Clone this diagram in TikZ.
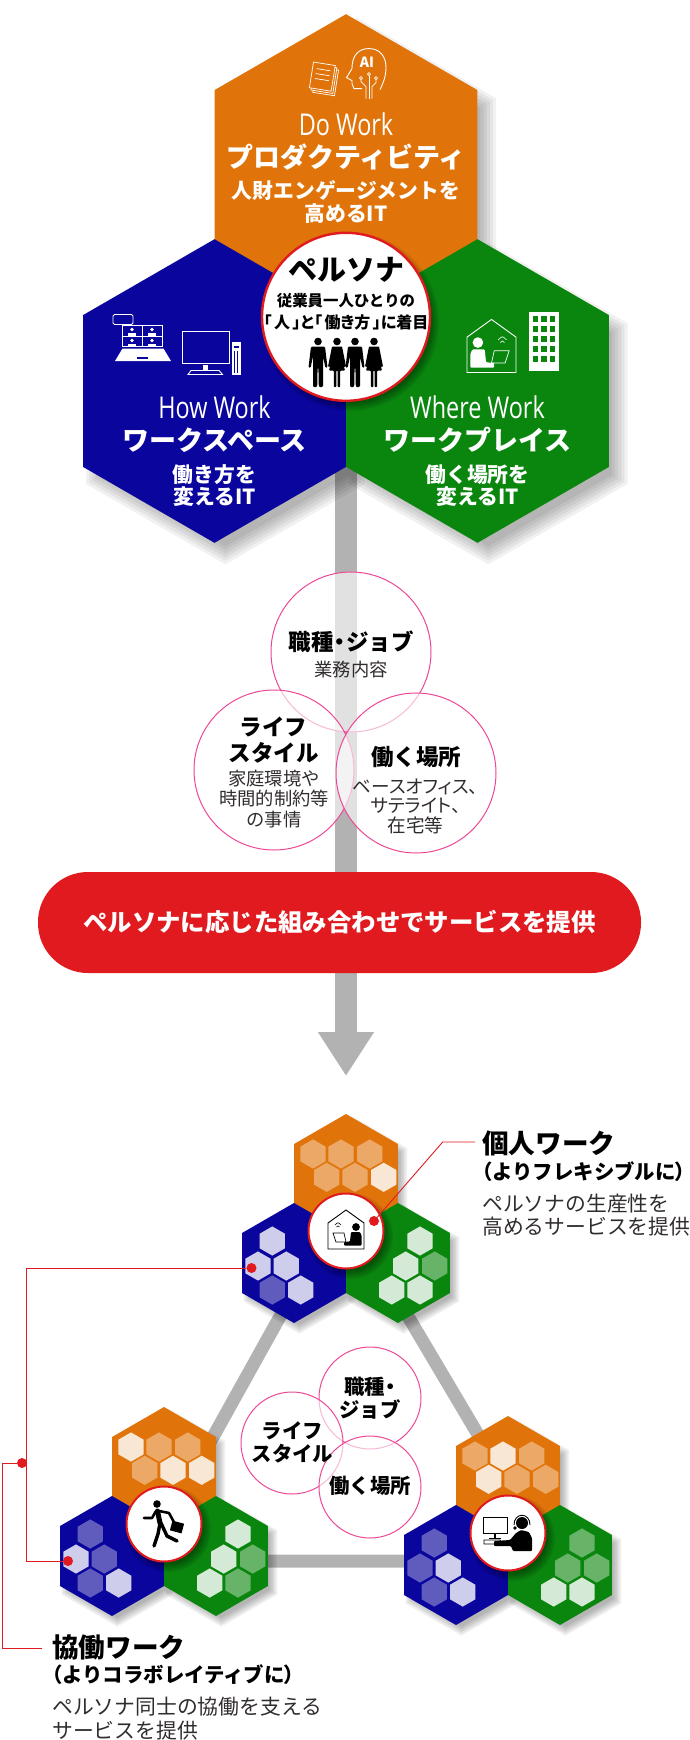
\documentclass[tikz,border=0pt]{standalone}
\usepackage{fontspec}
\usepackage{xcolor}
\usetikzlibrary{arrows.meta, shapes.geometric}
\setmainfont{Noto Sans CJK JP}
\newfontfamily\palt[RawFeature=+palt]{Noto Sans CJK JP}
\newfontfamily\workfont[FakeStretch=0.78]{Open Sans}
\definecolor{myorange}{RGB}{224, 116, 10}
\definecolor{myblue}{RGB}{10, 5, 156}
\definecolor{mygreen}{RGB}{10, 134, 14}
\definecolor{myred}{RGB}{224, 26, 30}
\definecolor{mypink}{RGB}{236, 72, 150}
\definecolor{mygray}{RGB}{178, 178, 178}
\definecolor{mytext}{RGB}{50, 45, 45}
\newcommand{\fsz}[2]{\fontsize{#1}{#2}\selectfont}
\newcommand{\hexline}[1]{(90:#1)--(30:#1)--(-30:#1)--(-90:#1)--(-150:#1)--(150:#1)--cycle}
\newcommand{\hexshadow}[4]{\foreach \g in {0,...,5}{
    \pgfmathsetmacro\rr{#3-#4*0.5+\g*#4/5}
    \fill[black,opacity=.055,shift={(#1+#4*.6,#2+#4*.7)}] \hexline{\rr};}}
\newcommand{\roundshadow}[3]{\foreach \g in {0,...,5}{
    \pgfmathsetmacro\rr{#3-3+\g*1.6}
    \fill[black,opacity=.07] (#1+4,#2+5) circle (\rr);}}
\newcommand{\minicell}[3]{\fill[white,fill opacity=#3,shift={(#1,#2)}] \hexline{14.6};}
\newcommand{\trio}[7]{
  \hexshadow{#1}{#2-57}{60}{9}
  \hexshadow{#1-52}{#2+32}{60}{9}
  \hexshadow{#1+52}{#2+32}{60}{9}
  \node[hexsmall,fill=myorange](#3top) at (#1,#2-57){};
  \node[hexsmall,fill=myblue](#3left) at (#1-52,#2+32){};
  \node[hexsmall,fill=mygreen](#3right) at (#1+52,#2+32){};
  \foreach \o [count=\k from 0] in {#4}{
    \pgfmathsetmacro\dx{{-33,-5,23.7,-19.3,9,37.7}[\k]}
    \pgfmathsetmacro\dy{{-20,-20,-20,3.3,3.3,3.3}[\k]}
    \minicell{#1+\dx}{#2-57+\dy}{\o}}
  \foreach \o [count=\k from 0] in {#5}{
    \pgfmathsetmacro\dx{{-21.7,-36,-7.7,-21.7,6.7}[\k]}
    \pgfmathsetmacro\dy{{-22,3,3,27,27}[\k]}
    \minicell{#1-52+\dx}{#2+32+\dy}{\o}}
  \foreach \o [count=\k from 0] in {#6}{
    \pgfmathsetmacro\dx{{22,7.7,36.7,-6.3,22}[\k]}
    \pgfmathsetmacro\dy{{-22,3,3,27,27}[\k]}
    \minicell{#1+52+\dx}{#2+32+\dy}{\o}}
  \roundshadow{#1}{#2}{38}
  \node[hub,line width=2pt,minimum size=75pt](#3hub) at (#1,#2){};
  \pic at (#1,#2) {#7};
}
\begin{document}
\begin{tikzpicture}[x=1pt,y=-1pt,
    hexa/.style={regular polygon,regular polygon sides=6,shape border rotate=30,
                 inner sep=0,outer sep=0,minimum size=303.6pt},
    hexsmall/.style={hexa,minimum size=120pt},
    hub/.style={circle,draw=myred,fill=white,line width=2.4pt,inner sep=0},
    venn/.style={circle,draw=mypink,line width=1pt,fill=white,fill opacity=.62,inner sep=0},
    hextext/.style={text=white,align=center,inner sep=0,font=\bfseries\fsz{20.8}{22.5}},
    hexhead/.style={text=white,align=center,inner sep=0,font=\bfseries\fsz{27}{30}},
    worktext/.style={text=white,inner sep=0,font=\workfont\fsz{30}{32}},
    vennhead/.style={align=center,inner sep=0,font=\bfseries\fsz{22.5}{26}},
    vennsub/.style={align=center,inner sep=0,text=mytext,font=\fsz{18.3}{20.5}},
    minitext/.style={vennhead,font=\bfseries\fsz{20.4}{22.5}},
    tag/.style={anchor=west,inner sep=0,font=\bfseries\fsz{26.6}{30}},
    tagsub/.style={anchor=west,inner sep=0,font=\bfseries\fsz{20.4}{24}},
    tagtext/.style={anchor=west,align=left,inner sep=0,text=mytext,font=\fsz{20.8}{23.5}},
    redline/.style={draw=myred,line width=.9pt},
    reddot/.style={circle,fill=myred,inner sep=0,minimum size=10pt},
    man/.pic={
      \fill (0,-21) circle (3.8);
      \fill[rounded corners=1.2pt] (-7,-16)--(7,-16)--(9.5,5)--(7.5,5.5)--(5,-6)--(5,24.5)--(0.8,24.5)
        --(0.4,5)--(-0.4,5)--(-0.8,24.5)--(-5,24.5)--(-5,-6)--(-7.5,5.5)--(-9.5,5)--cycle;},
    woman/.pic={
      \fill (0,-21) circle (3.8);
      \fill[rounded corners=.8pt] (-5,-16)--(5,-16)--(9,4)--(7,4.5)--(4,-7)--(8,8)--(3.2,8)--(3.2,24.5)--(.6,24.5)
        --(.6,8)--(-.6,8)--(-.6,24.5)--(-3.2,24.5)--(-3.2,8)--(-8,8)--(-4,-7)--(-7,4.5)--(-9,4)--cycle;},
    homeicon/.pic={
      \draw[line width=.9pt] (-18,-8)--(0,-21)--(18,-8)--(18,18)--(-18,18)--cycle;
      \fill (10,-4) circle (3.9);
      \fill[rounded corners=1pt] (5,1)--(14,1)--(15.5,4)--(15.5,14.5)--(-2,14.5)--(-2,11)--(4,10.5)--cycle;
      \draw[line width=.7pt] (-13,2)--(-2,2)--(0,11)--(-10,11)--cycle;
      \draw[line width=.6pt] (-11,-6) .. controls (-8,-9) .. (-5,-6);
      \draw[line width=.6pt] (-9.5,-4) .. controls (-8,-5.5) .. (-6.5,-4);},
    runner/.pic={
      \fill (-7,-20) circle (3.8);
      \draw[line width=5pt,line join=round,line cap=round] (-6.5,-13)--(-4,-1);
      \draw[line width=2.6pt,line join=round,line cap=round] (-8,-13)--(-12,-6)--(-20,-6);
      \draw[line width=2.6pt,line join=round,line cap=round] (-5,-13)--(5,-11)--(11,0);
      \draw[line width=3.4pt,line join=round,line cap=round] (-4,-1)--(-6,10)--(-10,22);
      \draw[line width=3.4pt,line join=round,line cap=round] (-3,-1)--(3,12)--(13,17);
      \fill[rotate around={-15:(13,3)}] (7,-2) rectangle (19,8);},
    headset/.pic={
      \draw[line width=.9pt] (-25,-16) rectangle (-1,0);
      \fill (-14,0) rectangle (-12,5);
      \fill (-19,4.5) rectangle (-7,6);
      \draw[line width=.8pt] (-24,7)--(-8,7)--(-6,11)--(-24,11)--cycle;
      \fill (14,-10) circle (6);
      \draw[line width=.9pt] (6,-8) .. controls (6,-21) and (22,-21) .. (22,-8);
      \fill (7,-5) circle (1.8);
      \fill[rounded corners=1pt] (13,-3)--(21,-1)--(24,5)--(24,18)--(5,18)--(3,13)--(-14,13)--(-14,8)--(2,7)--(8,0)--cycle;},
    build/.pic={
      \fill (-15,-29)--(15,-29)--(15,30)--(-15,30)--cycle;
      \foreach \r in {-22,-12,-2,8,18}
        \foreach \c in {-8.5,0,8.5}
          \fill[mygreen] (\c-2.8,\r-2.8) rectangle (\c+2.8,\r+2.8);},
  ]
\useasboundingbox (0,0) rectangle (690,1740);

\coordinate (arrowStart) at (346,440);
\coordinate (arrowEnd) at (346,1076);
\draw[mygray,line width=22pt,-{Triangle[length=44pt,width=53pt]}] (arrowStart)--(arrowEnd);

\hexshadow{346}{166}{151.8}{18}
\hexshadow{214.5}{391}{151.8}{18}
\hexshadow{477.5}{391}{151.8}{18}
\node[hexa,fill=myorange](doHex) at (346,166){};
\node[hexa,fill=myblue](howHex) at (214.5,391){};
\node[hexa,fill=mygreen](whereHex) at (477.5,391){};

\node[worktext](doWork) at (346,124){Do Work};
\node[hexhead](doHead) at (346,157){プロダクティビティ};
\node[hextext](doText) at (346,202){人財エンゲージメントを\\高めるIT};
\node[worktext](howWork) at (214.5,407){How Work};
\node[hexhead](howHead) at (214.5,440){ワークスペース};
\node[hextext](howText) at (214.5,485.5){働き方を\\変えるIT};
\node[worktext](whereWork) at (477.5,407){Where Work};
\node[hexhead](whereHead) at (477.5,440){ワークプレイス};
\node[hextext](whereText) at (477.5,485.5){働く場所を\\変えるIT};

\begin{scope}[white,shift={(0,-1.4)}]
  \foreach \s in {4,2,0}
    \draw[line width=.7pt,fill=myorange,rotate around={-9:(322,80)}] (311+\s,65+\s) rectangle (333+\s,91+\s);
  \foreach \l in {71,76,81}
    \draw[line width=.7pt,rotate around={-9:(322,80)}] (315,\l)--(329,\l);
  \draw[line width=.9pt] (362,90)--(354,90)--(352,85)--(352,82)--(346.5,79)--(352,70)
    .. controls (352,55) and (360,50) .. (369,50) .. controls (380,50) and (386,58) .. (386,69)
    .. controls (386,78) and (383,85) .. (380,91);
  \draw[line width=.7pt] (366,100)--(366,88)--(361,83)--(361,81);
  \draw[line width=.7pt] (369,100)--(369,77);
  \draw[line width=.7pt] (372,100)--(372,88)--(376,84)--(376,81);
  \draw[line width=.7pt] (361,79.5) circle (1.6) (369,75.5) circle (1.6) (376,79.5) circle (1.6);
  \node[text=white,inner sep=0,font=\bfseries\fsz{14}{14}](aiLabel) at (367,64){AI};
\end{scope}
\begin{scope}[white,shift={(0,-6.5)}]
  \draw[line width=.9pt,rounded corners=1.5pt] (113,321) rectangle (133,331);
  \draw[line width=.9pt] (122.5,332) rectangle (162,353);
  \draw[line width=.7pt] (142,332)--(142,353) (122.5,342.5)--(162,342.5);
  \foreach \a/\b in {132/336,152/336,132/347,152/347}{
    \fill (\a,\b) circle (1.8);
    \fill (\a-4,\b+6) rectangle (\a+4,\b+3);}
  \fill (122.5,355)--(163.5,355)--(171,367.5)--(115,367.5)--cycle;
  \fill[myblue] (137,363) rectangle (148,365);

  \draw[line width=1pt] (182.5,338) rectangle (229,370);
  \fill (203,371) rectangle (208,376);
  \draw[line width=.9pt] (188,381)--(191,377)--(219,377)--(222.5,381)--cycle;
  \fill (232,348) rectangle (241,381);
  \fill[myblue] (234,352) rectangle (239,354);
  \fill[myblue] (234,357) rectangle (235,379);
  \fill[myblue] (237,357) rectangle (238,379);

  \pic[xscale=-1.36,yscale=1.36] at (491.5,354.5) {homeicon};
  \pic at (544,347.5) {build};
\end{scope}

\roundshadow{346}{316.8}{84}
\node[hub,minimum size=168pt](persona) at (346,316.8){};
\node[inner sep=0,font=\bfseries\fsz{29}{30}](personaHead) at (346,269.5){ペルソナ};
\node[align=center,inner sep=0,font=\bfseries\fsz{15.4}{21.8}](personaText) at (346,311.5){従業員一人ひとりの\\\palt\fsz{16}{21.8}「\kern2.5pt 人\kern2.5pt 」と「\kern2.5pt 働き方\kern2.5pt 」に着目};
\pic at (318,362.5) {man};
\pic at (337,362.5) {woman};
\pic at (355,362.5) {man};
\pic at (374,362.5) {woman};

\node[venn,minimum size=160pt](vennJob) at (351,652){};
\node[venn,minimum size=160pt](vennLife) at (274,770){};
\node[venn,minimum size=160pt](vennPlace) at (416,773){};
\node[vennhead](jobHead) at (351,642){職種\kern-5pt ・\kern-5pt ジョブ};
\node[vennsub](jobText) at (351,670){業務内容};
\node[vennhead](lifeHead) at (273.5,740){ライフ\\スタイル};
\node[vennsub](lifeText) at (274,799){家庭環境や\\時間的制約等\\の事情};
\node[vennhead](placeHead) at (416,757){働く場所};
\node[vennsub,font=\palt\fsz{18.6}{19.5}](placeText) at (415.5,806){ベースオフィス、\\サテライト、\\在宅等};

\node[rounded corners=50pt,fill=myred,minimum width=603pt,minimum height=101pt,inner sep=0](offer) at (339.5,922.5){};
\node[text=white,inner sep=0,font=\bfseries\fsz{24.4}{26}](offerText) at (339.5,922){ペルソナに応じた組み合わせでサービスを提供};

\coordinate (triTop) at (342,1205);
\coordinate (triLeft) at (144,1561);
\coordinate (triRight) at (553,1561);
\draw[mygray,line width=13pt,line join=miter] (triTop)--(triLeft)--(triRight)--cycle;

\trio{346}{1231}{solo}{.38,.38,.38,.38,.38,.83}{.8,.8,.8,.35,.8}{.83,.83,.38,.83,.83}{homeicon}
\trio{164}{1524}{team}{.83,.38,.38,.38,.83,.83}{.35,.8,.35,.35,.8}{.83,.83,.38,.83,.38}{runner}
\trio{508}{1533}{desk}{.38,.83,.38,.83,.38,.38}{.35,.35,.8,.35,.8}{.38,.38,.38,.83,.83}{headset}

\node[venn,minimum size=102pt](miniJob) at (370,1398){};
\node[venn,minimum size=102pt](miniLife) at (292,1443){};
\node[venn,minimum size=102pt](miniPlace) at (370,1487){};
\node[minitext](miniJobText) at (370,1398){\palt 職種・\\ジョブ};
\node[minitext](miniLifeText) at (292.5,1442.5){ライフ\\スタイル};
\node[minitext](miniPlaceText) at (370,1486){働く場所};

\node[tag](soloHead) at (482,1143){個人ワーク};
\node[tagsub](soloSub) at (482,1172){{\palt（}よりフレキシブルに{\palt ）}};
\node[tagtext](soloText) at (482,1215){ペルソナの生産性を\\高めるサービスを提供};
\node[tag](teamHead) at (52,1647){協働ワーク};
\node[tagsub](teamSub) at (52,1675){{\palt（}よりコラボレイティブに{\palt ）}};
\node[tagtext](teamText) at (52,1718.5){ペルソナ同士の協働を支える\\サービスを提供};

\node[reddot](soloDot) at (374,1221){};
\node[reddot](flexDot) at (251.5,1268){};
\node[reddot](teamDot) at (68,1561){};
\node[reddot](joinDot) at (22,1463){};
\coordinate (soloBend) at (442.7,1142);
\coordinate (soloEnd) at (475,1142);
\coordinate (flexTop) at (26,1268);
\coordinate (flexBot) at (26,1561);
\coordinate (joinSide) at (2,1463);
\coordinate (joinBot) at (2,1648);
\coordinate (joinEnd) at (42,1648);
\draw[redline] (soloDot)--(soloBend)--(soloEnd);
\draw[redline] (flexDot)--(flexTop)--(flexBot)--(teamDot);
\draw[redline] (joinDot)--(joinSide)--(joinBot)--(joinEnd);
\end{tikzpicture}
\end{document}
